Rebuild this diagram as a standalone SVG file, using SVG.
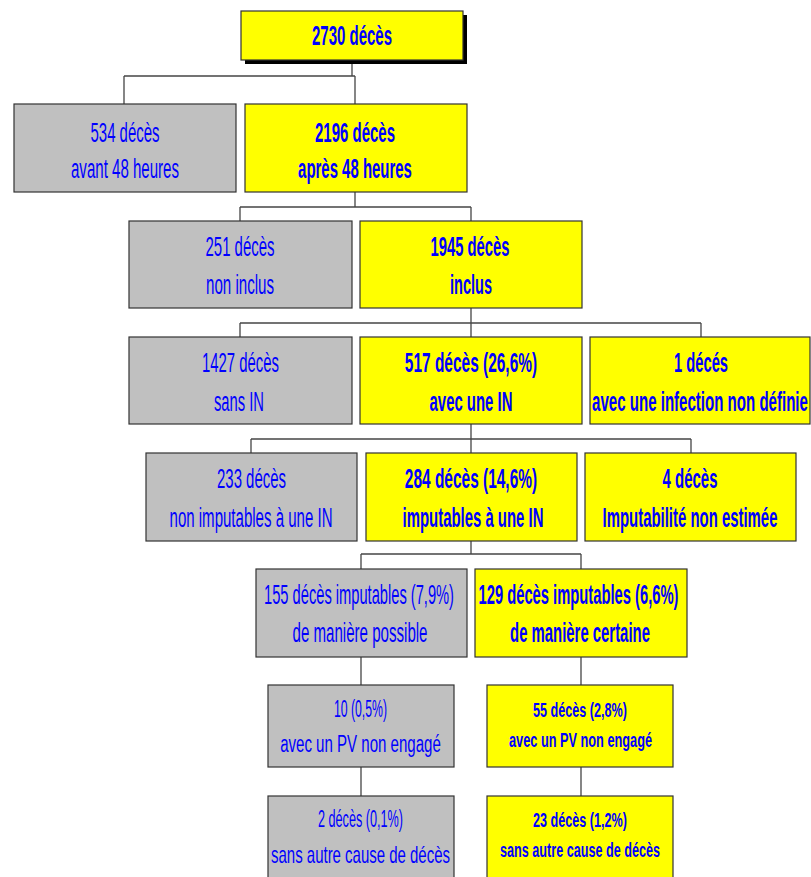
<svg xmlns="http://www.w3.org/2000/svg" width="811" height="877" viewBox="0 0 811 877">
<style>
.g{fill:#C0C0C0;stroke:#333;stroke-width:1.2}
.y{fill:#FFFF00;stroke:#333;stroke-width:1.2}
.t{font-family:"Liberation Sans",Arial,sans-serif;fill:#0000FF;text-anchor:middle;font-size:27px}
.b{font-weight:bold}
.m{font-size:28px}
.s{font-size:24px}
.xs{font-size:21px}
.xxs{font-size:20px}
.c line{stroke:#444;stroke-width:1.3}
</style>
<rect width="811" height="877" fill="#fff"/>
<g class="c" id="connectors">
<line x1="352" y1="64" x2="352" y2="76"/>
<line x1="124" y1="76" x2="355" y2="76"/>
<line x1="124" y1="76" x2="124" y2="104"/>
<line x1="355" y1="76" x2="355" y2="104"/>
<line x1="355" y1="192" x2="355" y2="207"/>
<line x1="240" y1="207" x2="471" y2="207"/>
<line x1="240" y1="207" x2="240" y2="221"/>
<line x1="471" y1="207" x2="471" y2="221"/>
<line x1="471" y1="308" x2="471" y2="337"/>
<line x1="240" y1="323" x2="701" y2="323"/>
<line x1="240" y1="323" x2="240" y2="337"/>
<line x1="701" y1="323" x2="701" y2="337"/>
<line x1="471" y1="424" x2="471" y2="453"/>
<line x1="251" y1="439" x2="691" y2="439"/>
<line x1="251" y1="439" x2="251" y2="453"/>
<line x1="691" y1="439" x2="691" y2="453"/>
<line x1="471" y1="541" x2="471" y2="554"/>
<line x1="361" y1="554" x2="581" y2="554"/>
<line x1="361" y1="554" x2="361" y2="569"/>
<line x1="581" y1="554" x2="581" y2="569"/>
<line x1="361" y1="657" x2="361" y2="685"/>
<line x1="581" y1="657" x2="581" y2="685"/>
<line x1="361" y1="767" x2="361" y2="796"/>
<line x1="581" y1="767" x2="581" y2="796"/>
</g>
<g id="n_2730">
<rect x="245" y="15" width="222" height="49" fill="#000"/>
<rect class="y" x="241" y="11" width="222" height="49"/>
<text class="t b" transform="translate(352,45) scale(0.555,1)">2730 décès</text>
</g>
<g id="n_534">
<rect class="g" x="14" y="104" width="222" height="88"/>
<text class="t" transform="translate(125,142) scale(0.554,1)">534 décès</text>
<text class="t" transform="translate(125,178) scale(0.558,1)">avant 48 heures</text>
</g>
<g id="n_2196">
<rect class="y" x="245" y="104" width="222" height="88"/>
<text class="t b" transform="translate(355,142) scale(0.555,1)">2196 décès</text>
<text class="t b" transform="translate(355,178) scale(0.554,1)">après 48 heures</text>
</g>
<g id="n_251">
<rect class="g" x="129" y="221" width="223" height="87"/>
<text class="t" transform="translate(240,256) scale(0.554,1)">251 décès</text>
<text class="t" transform="translate(240,294) scale(0.559,1)">non inclus</text>
</g>
<g id="n_1945">
<rect class="y" x="360" y="221" width="222" height="87"/>
<text class="t b" transform="translate(470,256) scale(0.548,1)">1945 décès</text>
<text class="t b" transform="translate(471,294) scale(0.538,1)">inclus</text>
</g>
<g id="n_1427">
<rect class="g" x="129" y="337" width="223" height="87"/>
<text class="t m" transform="translate(240.5,372) scale(0.532,1)">1427 décès</text>
<text class="t m" transform="translate(239,411) scale(0.527,1)">sans IN</text>
</g>
<g id="n_517">
<rect class="y" x="360" y="337" width="222" height="87"/>
<text class="t b m" transform="translate(471,372) scale(0.552,1)">517 décès (26,6%)</text>
<text class="t b m" transform="translate(471,411) scale(0.533,1)">avec une IN</text>
</g>
<g id="n_1">
<rect class="y" x="590" y="337" width="220" height="87"/>
<text class="t b m" transform="translate(701,372) scale(0.526,1)">1 décés</text>
<text class="t b m" transform="translate(700,411) scale(0.538,1)">avec une infection non définie</text>
</g>
<g id="n_233">
<rect class="g" x="146" y="453" width="211" height="88"/>
<text class="t m" transform="translate(251.5,488) scale(0.534,1)">233 décès</text>
<text class="t m" transform="translate(251,527) scale(0.537,1)">non imputables à une IN</text>
</g>
<g id="n_284">
<rect class="y" x="366" y="453" width="211" height="88"/>
<text class="t b m" transform="translate(471,488) scale(0.552,1)">284 décès (14,6%)</text>
<text class="t b m" transform="translate(473,527) scale(0.533,1)">imputables à une IN</text>
</g>
<g id="n_4">
<rect class="y" x="585" y="453" width="211" height="88"/>
<text class="t b m" transform="translate(690,488) scale(0.535,1)">4 décès</text>
<text class="t b m" transform="translate(690,527) scale(0.533,1)">Imputabilité non estimée</text>
</g>
<g id="n_155">
<rect class="g" x="256" y="569" width="211" height="88"/>
<text class="t m" transform="translate(359,604) scale(0.524,1)">155 décès imputables (7,9%)</text>
<text class="t m" transform="translate(360,642) scale(0.539,1)">de manière possible</text>
</g>
<g id="n_129">
<rect class="y" x="475" y="569" width="212" height="88"/>
<text class="t b m" transform="translate(578.5,604) scale(0.527,1)">129 décès imputables (6,6%)</text>
<text class="t b m" transform="translate(580,642) scale(0.532,1)">de manière certaine</text>
</g>
<g id="n_10">
<rect class="g" x="268" y="685" width="186" height="82"/>
<text class="t s" transform="translate(360.5,717) scale(0.51,1)">10 (0,5%)</text>
<text class="t s" transform="translate(360.5,752) scale(0.628,1)">avec un PV non engagé</text>
</g>
<g id="n_55">
<rect class="y" x="487" y="685" width="186" height="82"/>
<text class="t b xs" transform="translate(580,717) scale(0.601,1)">55 décès (2,8%)</text>
<text class="t b xs" transform="translate(580.5,747) scale(0.607,1)">avec un PV non engagé</text>
</g>
<g id="n_2">
<rect class="g" x="268" y="796" width="186" height="92"/>
<text class="t s" transform="translate(360.5,827) scale(0.527,1)">2 décès (0,1%)</text>
<text class="t s" transform="translate(360.5,863) scale(0.624,1)">sans autre cause de décès</text>
</g>
<g id="n_23">
<rect class="y" x="487" y="796" width="186" height="92"/>
<text class="t b xs" transform="translate(580,827) scale(0.601,1)">23 décès (1,2%)</text>
<text class="t b xxs" transform="translate(580,857) scale(0.631,1)">sans autre cause de décès</text>
</g>
</svg>
